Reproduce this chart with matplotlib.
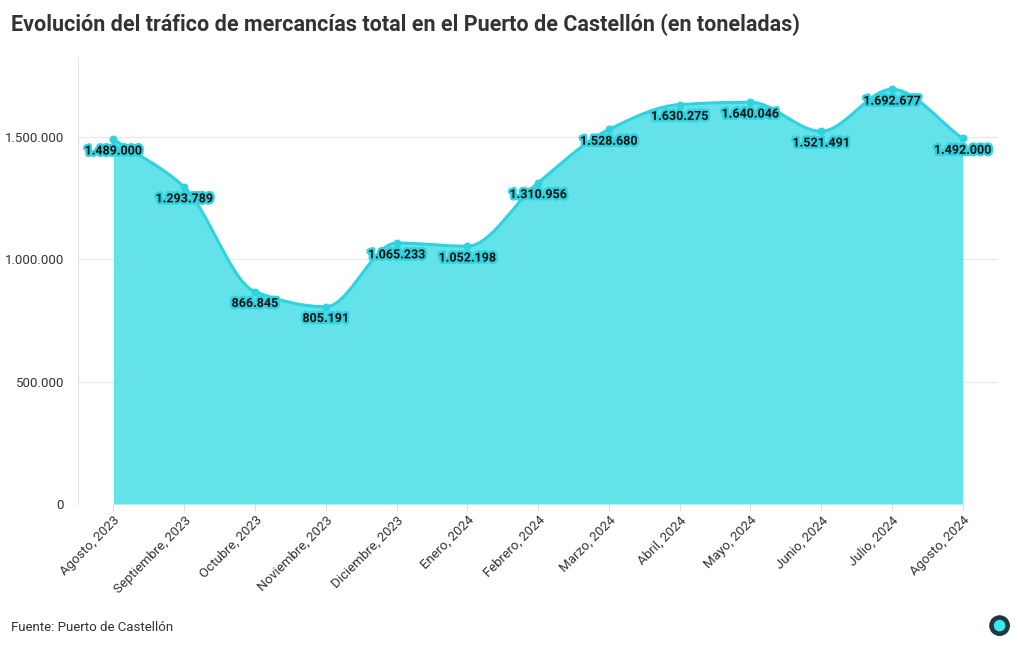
import matplotlib
matplotlib.use("Agg")
import matplotlib.pyplot as plt
import matplotlib.patheffects as pe
from matplotlib.patches import Circle
import numpy as np

months = ["Agosto, 2023", "Septiembre, 2023", "Octubre, 2023", "Noviembre, 2023",
          "Diciembre, 2023", "Enero, 2024", "Febrero, 2024", "Marzo, 2024",
          "Abril, 2024", "Mayo, 2024", "Junio, 2024", "Julio, 2024", "Agosto, 2024"]
toneladas = [1489000, 1293789, 866845, 805191, 1065233, 1052198, 1310956,
             1528680, 1630275, 1640046, 1521491, 1692677, 1492000]

plt.rcParams['font.family'] = ['Roboto', 'DejaVu Sans']

line_col = "#2ed3df"
fill_col = "#64e2ea"


def monotone(x, y, n=30):
    # curva suave tipo monotone (Fritsch-Carlson)
    x = np.asarray(x, float)
    y = np.asarray(y, float)
    h = np.diff(x)
    d = np.diff(y) / h
    m = np.zeros_like(y)
    m[0], m[-1] = d[0], d[-1]
    for i in range(1, len(y) - 1):
        if d[i - 1] * d[i] <= 0:
            m[i] = 0
        else:
            m[i] = 3 * (h[i - 1] + h[i]) / ((2 * h[i] + h[i - 1]) / d[i - 1] + (h[i] + 2 * h[i - 1]) / d[i])
    xs, ys = [], []
    for i in range(len(x) - 1):
        t = np.linspace(0, 1, n, endpoint=False)
        h00 = 2 * t**3 - 3 * t**2 + 1
        h10 = t**3 - 2 * t**2 + t
        h01 = -2 * t**3 + 3 * t**2
        h11 = t**3 - t**2
        xs.append(x[i] + t * h[i])
        ys.append(h00 * y[i] + h10 * h[i] * m[i] + h01 * y[i + 1] + h11 * h[i] * m[i + 1])
    xs.append([x[-1]])
    ys.append([y[-1]])
    return np.concatenate(xs), np.concatenate(ys)


fig = plt.figure(figsize=(10.2, 6.5), dpi=100)
ax = fig.add_axes([0.0765, 0.2246, 0.902, 0.686])

xi = np.arange(len(months))
xs, ys = monotone(xi, toneladas)
ax.fill_between(xs, 0, ys, color=fill_col, lw=0, zorder=2)
ax.plot(xs, ys, color=line_col, lw=2.2, zorder=3)
ax.scatter(xi, toneladas, s=22, color=line_col, zorder=4)

for x, v in zip(xi, toneladas):
    lab = f"{v:,}".replace(",", ".")
    ax.annotate(lab, (x, v), xytext=(0, -8.5), textcoords="offset points",
                ha="center", va="center", fontsize=9, fontweight="bold", color="#111111",
                zorder=5, path_effects=[pe.withStroke(linewidth=3.5, foreground=line_col)])

ax.set_xlim(-0.5, len(months) - 0.5)
ax.set_ylim(0, 1820000)
ax.set_yticks([0, 500000, 1000000, 1500000])
ax.set_yticklabels(["0", "500.000", "1.000.000", "1.500.000"])
ax.set_xticks(xi)
ax.set_xticklabels(months, rotation=45, ha="right", rotation_mode="anchor")
ax.grid(axis="y", color="#e8e8e8", lw=0.8, zorder=0)
ax.grid(axis="x", visible=False)
for s in ["top", "right", "bottom"]:
    ax.spines[s].set_visible(False)
ax.spines["left"].set_color("#e2e2e2")
ax.tick_params(axis="y", length=0, labelsize=9.5, labelcolor="#333333", pad=10)
ax.tick_params(axis="x", length=5, color="#dddddd", labelsize=9.5, labelcolor="#333333", pad=2)

fig.text(0.011, 0.962, "Evolución del tráfico de mercancías total en el Puerto de Castellón (en toneladas)",
         fontsize=15.5, fontweight="bold", color="#333333", va="center")
fig.text(0.011, 0.035, "Fuente: Puerto de Castellón", fontsize=9.5, color="#333333", va="center")

# logo
lax = fig.add_axes([0.97, 0.02, 0.02, 0.035])
lax.set_xlim(-1, 1)
lax.set_ylim(-1, 1)
lax.set_aspect("equal")
lax.axis("off")
lax.add_patch(Circle((0, 0), 0.95, color="#1c3a45"))
lax.add_patch(Circle((0, 0), 0.5, color="#3ee6ee"))

fig.savefig("out.png", dpi=100)
